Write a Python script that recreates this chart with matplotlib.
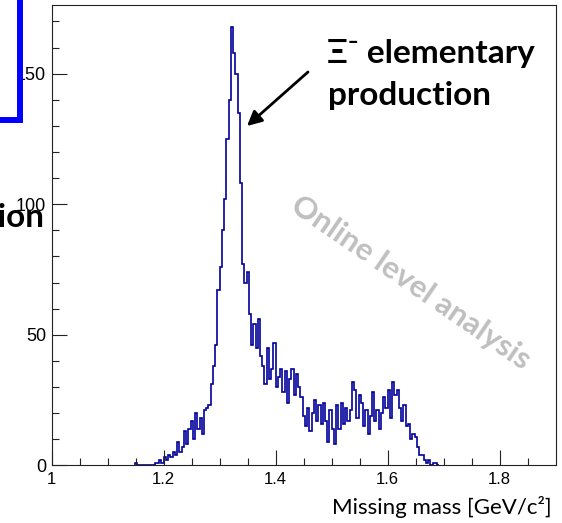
import numpy as np
import matplotlib
matplotlib.use("Agg")
import matplotlib.pyplot as plt
from matplotlib.lines import Line2D

W, H = 562, 523

# histogram: 4 MeV bins starting at 1.148 GeV/c^2
bin_start = 1.148
bin_width = 0.004
counts = [
    1, 0, 0, 0, 0, 0, 0, 0, 0, 1,
    1, 2, 1, 3, 2, 4, 3, 5, 4, 9,
    5, 7, 13, 8, 14, 17, 10, 20, 14, 18,
    12, 21, 22, 23, 31, 38, 46, 67, 76, 90,
    102, 125, 140, 168, 158, 150, 135, 108, 77, 70,
    74, 58, 46, 54, 45, 56, 42, 38, 31, 45,
    33, 37, 47, 30, 34, 37, 28, 36, 24, 33,
    37, 27, 35, 30, 26, 19, 15, 22, 13, 20,
    25, 17, 23, 16, 24, 17, 9, 21, 14, 8,
    23, 14, 24, 16, 22, 17, 21, 32, 29, 18,
    27, 24, 15, 21, 12, 19, 28, 17, 21, 14,
    20, 26, 22, 29, 18, 32, 27, 29, 22, 17,
    23, 15, 16, 10, 12, 11, 7, 4, 4, 2,
    1, 2, 0, 1, 1, 0,
]
x_ticks = [1.0, 1.2, 1.4, 1.6, 1.8]
x_ticklabels = ["1", "1.2", "1.4", "1.6", "1.8"]
y_ticks = [0, 50, 100, 150]

edges = bin_start + bin_width * np.arange(len(counts) + 1)

fig = plt.figure(figsize=(W / 100, H / 100), dpi=100)
ax = fig.add_axes([51.7 / W, 1 - 465.3 / H, (555.7 - 51.7) / W, (465.3 - 4.7) / H])

ax.stairs(counts, edges, color="#000099", lw=1.2, baseline=0)

ax.set_xlim(1.0, 1.9)
ax.set_ylim(0, 1.05 * max(counts))
ax.set_xticks(x_ticks)
ax.set_xticklabels(x_ticklabels, fontsize=12, family="Liberation Sans")
ax.set_xticks(np.arange(1.0, 1.9, 0.05), minor=True)
ax.set_yticks(y_ticks)
ax.set_yticklabels([str(v) for v in y_ticks], fontsize=13, family="Liberation Sans")
ax.set_yticks(np.arange(0, 175, 10), minor=True)
ax.tick_params(which="both", direction="in", top=False, right=False, width=0.8, color="#222222")
ax.tick_params(which="major", length=10.5)
ax.tick_params(which="minor", length=5)
ax.tick_params(axis="x", pad=5)
ax.tick_params(axis="y", pad=4)
for s in ax.spines.values():
    s.set_linewidth(0.8)
    s.set_color("#222222")


def fx(px):
    return px / W


def fy(py):
    return 1 - py / H


bold = dict(family=["Lato", "DejaVu Sans"], weight="bold", color="black")
fig.text(fx(327), fy(63), "Ξ⁻ elementary", fontsize=24, ha="left", va="baseline", **bold)
fig.text(fx(328), fy(105), "production", fontsize=24, ha="left", va="baseline", **bold)
fig.text(fx(44), fy(227), "production", fontsize=24, ha="right", va="baseline", zorder=10, **bold)

fig.text(fx(411), fy(283), "Online level analysis", fontsize=22.5, rotation=-34.5,
         rotation_mode="anchor", ha="center", va="center", color="#BFBFBF",
         family=["Lato", "DejaVu Sans"], weight="bold")

fig.text(fx(552), fy(514), "Missing mass [GeV/c²]", fontsize=16, ha="right", va="baseline",
         family=["Lato", "DejaVu Sans"], color="black")

ax.annotate("", xy=(fx(247), fy(126)), xycoords="figure fraction",
            xytext=(fx(308), fy(72)), textcoords="figure fraction",
            arrowprops=dict(arrowstyle="-|>", lw=2, color="black", mutation_scale=22,
                            shrinkA=0, shrinkB=0))

fig.add_artist(Line2D([fx(0), fx(20), fx(20)], [fy(120), fy(120), fy(0)],
                      transform=fig.transFigure, color="#0000FF", lw=4.3,
                      solid_joinstyle="miter", zorder=20))

fig.savefig("out.png", dpi=100)
